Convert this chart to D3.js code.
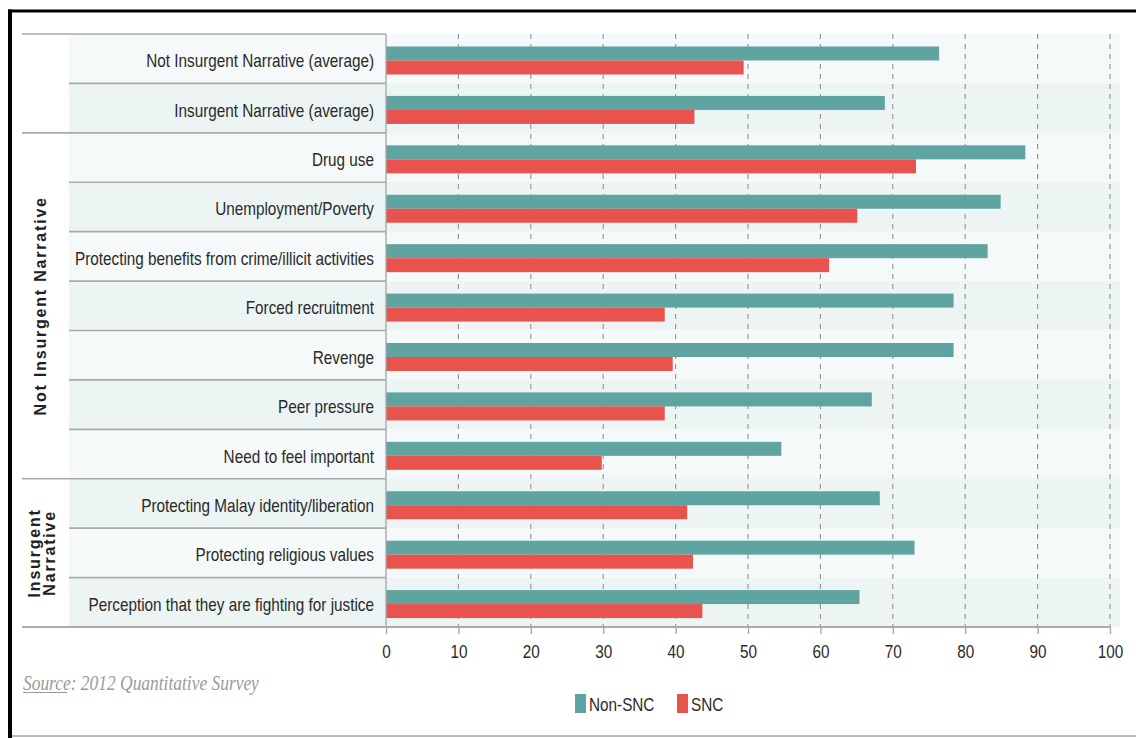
<!DOCTYPE html>
<html>
<head>
<meta charset="utf-8">
<script src="https://cdn.jsdelivr.net/npm/d3@7"></script>
<style>
  body { margin: 0; background: #fff; }
  svg { display: block; }
</style>
</head>
<body>
<div id="chart"></div>
<script>
// values
const categories = [
    "Not Insurgent Narrative (average)",
    "Insurgent Narrative (average)",
    "Drug use",
    "Unemployment/Poverty",
    "Protecting benefits from crime/illicit activities",
    "Forced recruitment",
    "Revenge",
    "Peer pressure",
    "Need to feel important",
    "Protecting Malay identity/liberation",
    "Protecting religious values",
    "Perception that they are fighting for justice"
];
const nonSNC = [76.4, 68.9, 88.3, 84.9, 83.1, 78.4, 78.4, 67.1, 54.6, 68.2, 73.0, 65.4];
const snc = [49.4, 42.6, 73.2, 65.1, 61.2, 38.5, 39.6, 38.5, 29.8, 41.6, 42.4, 43.7];
const seriesNames = ["Non-SNC", "SNC"];
const tickValues = [0, 10, 20, 30, 40, 50, 60, 70, 80, 90, 100];

// groups: index of first row and label lines
const groupStarts = [0, 2, 9];
const groupLines = [[], ["Not Insurgent Narrative"], ["Insurgent", "Narrative"]];

const W = 1136, H = 738;
const colors = {"Non-SNC": "#5fa4a1", "SNC": "#e9534e"};
const sans = "'Liberation Sans', Arial, sans-serif";
const squeeze = 0.85;   // no condensed face installed, so squash horizontally

const svg = d3.select("#chart").append("svg")
    .attr("width", W)
    .attr("height", H);

svg.append("rect").attr("width", W).attr("height", H).attr("fill", "#fff");

const x = d3.scaleLinear().domain([0, 100]).range([386, 1110]);
const y = d3.scaleBand().domain(categories).range([34, 627]).padding(0);
const sub = d3.scaleBand().domain(seriesNames).range([12.5, 40.5]).padding(0);

const rows = categories.map((c, i) => ({cat: c, i: i, vals: [nonSNC[i], snc[i]]}));

// row shading, label panel + plot area
svg.append("g").selectAll("rect")
    .data(rows)
    .join("rect")
    .attr("x", 69)
    .attr("y", d => y(d.cat))
    .attr("width", 1120 - 69)
    .attr("height", y.bandwidth())
    .attr("fill", d => d.i % 2 ? "#ecf5f4" : "#f5f9f9");

// dashed gridlines
svg.append("g").selectAll("line")
    .data(tickValues.filter(t => t > 0))
    .join("line")
    .attr("x1", d => x(d)).attr("x2", d => x(d))
    .attr("y1", 34).attr("y2", 627)
    .attr("stroke", "#999")
    .attr("stroke-width", 1.2)
    .attr("stroke-dasharray", "5,5");

// bars
const rowG = svg.append("g").selectAll("g")
    .data(rows)
    .join("g")
    .attr("transform", d => `translate(0,${y(d.cat)})`);

rowG.selectAll("rect")
    .data(d => d.vals.map((v, k) => ({name: seriesNames[k], v: v})))
    .join("rect")
    .attr("x", x(0))
    .attr("y", d => sub(d.name))
    .attr("width", d => x(d.v) - x(0))
    .attr("height", sub.bandwidth())
    .attr("fill", d => colors[d.name]);

// row separators
svg.append("g").selectAll("line")
    .data(rows.slice(1))
    .join("line")
    .attr("x1", d => groupStarts.includes(d.i) ? 22 : 69)
    .attr("x2", 386)
    .attr("y1", d => y(d.cat)).attr("y2", d => y(d.cat))
    .attr("stroke", "#aaa")
    .attr("stroke-width", 1.6);

svg.append("line")
    .attr("x1", 22).attr("x2", 386)
    .attr("y1", 34).attr("y2", 34)
    .attr("stroke", "#aaa").attr("stroke-width", 1.6);

// panel border at zero
svg.append("line")
    .attr("x1", x(0)).attr("x2", x(0))
    .attr("y1", 34).attr("y2", 627)
    .attr("stroke", "#aaa").attr("stroke-width", 1.4);

// category labels
svg.append("g").selectAll("text")
    .data(rows)
    .join("text")
    .attr("transform", d => `translate(374,${y(d.cat) + y.bandwidth() / 2 + 8.5}) scale(${squeeze},1)`)
    .attr("text-anchor", "end")
    .style("font-family", sans)
    .style("font-size", "18px")
    .attr("fill", "#2a2a2a")
    .text(d => d.cat);

// group labels (rotated)
groupStarts.forEach((s, g) => {
    const end = g + 1 < groupStarts.length ? groupStarts[g + 1] : categories.length;
    const y0 = y(categories[s]);
    const y1 = y(categories[end - 1]) + y.bandwidth();
    const lines = groupLines[g];
    const cy = (y0 + y1) / 2;
    lines.forEach((t, k) => {
        const bx = lines.length === 1 ? 46 : 40 + k * 14.5;
        svg.append("text")
            .attr("transform", `translate(${bx},${cy}) rotate(-90)`)
            .attr("text-anchor", "middle")
            .style("font-family", sans)
            .style("font-weight", "bold")
            .style("font-size", "16px")
            .style("letter-spacing", "1.8px")
            .attr("fill", "#222")
            .text(t);
    });
});

// x axis
const axis = svg.append("g")
    .attr("transform", "translate(0,627)")
    .call(d3.axisBottom(x).tickValues(tickValues).tickSize(7).tickSizeOuter(0).tickPadding(11));
axis.select(".domain").remove();
axis.selectAll(".tick line").attr("stroke", "#aaa").attr("stroke-width", 1.4);
axis.selectAll(".tick text")
    .attr("transform", `scale(${squeeze},1)`)
    .style("font-family", sans)
    .style("font-size", "18px")
    .attr("fill", "#2a2a2a");

svg.append("line")
    .attr("x1", 22).attr("x2", 1110)
    .attr("y1", 627).attr("y2", 627)
    .attr("stroke", "#aaa").attr("stroke-width", 1.8);

// source note
svg.append("text")
    .attr("transform", `translate(23,690) scale(0.83,1)`)
    .style("font-family", "'Liberation Serif', serif")
    .style("font-style", "italic")
    .style("font-size", "21px")
    .attr("fill", "#9a9a9a")
    .text("Source: 2012 Quantitative Survey");
svg.append("line")
    .attr("x1", 23).attr("x2", 67)
    .attr("y1", 692.5).attr("y2", 692.5)
    .attr("stroke", "#9a9a9a").attr("stroke-width", 1);

// legend
const legend = svg.append("g").attr("transform", "translate(575,694)");
const legX = [0, 102];
seriesNames.forEach((n, k) => {
    legend.append("rect")
        .attr("x", legX[k]).attr("y", 0)
        .attr("width", 11).attr("height", 19)
        .attr("fill", colors[n]);
    legend.append("text")
        .attr("transform", `translate(${legX[k] + 14},17) scale(${squeeze},1)`)
        .style("font-family", sans)
        .style("font-size", "18px")
        .attr("fill", "#2a2a2a")
        .text(n);
});

// outer frame
svg.append("line").attr("x1", 8).attr("x2", W).attr("y1", 11).attr("y2", 11)
    .attr("stroke", "#000").attr("stroke-width", 3);
svg.append("line").attr("x1", 10).attr("x2", 10).attr("y1", 9.5).attr("y2", H)
    .attr("stroke", "#000").attr("stroke-width", 4);
svg.append("line").attr("x1", 12).attr("x2", W).attr("y1", 736).attr("y2", 736)
    .attr("stroke", "#bbb").attr("stroke-width", 2);
</script>
</body>
</html>
